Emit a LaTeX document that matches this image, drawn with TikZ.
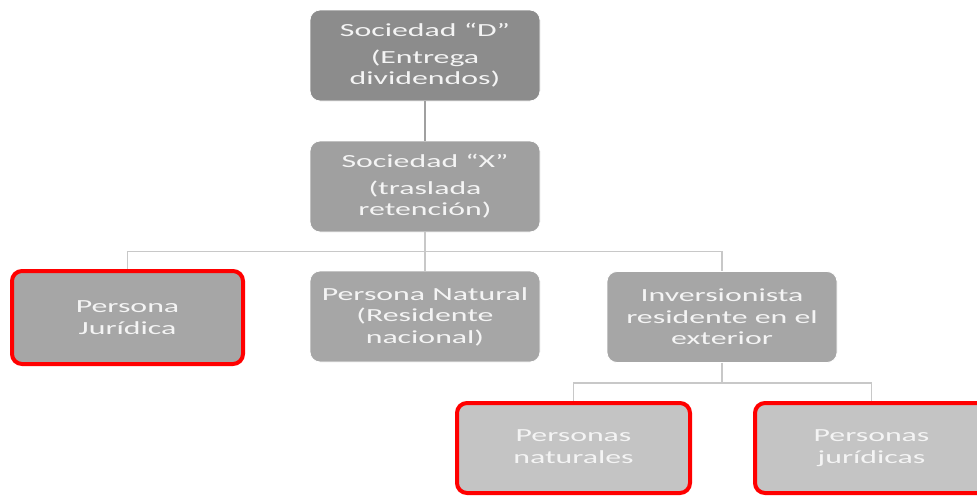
\documentclass[tikz,border=0pt]{standalone}
\usepackage{fontspec}
\setmainfont{Carlito}[FakeStretch=1.72]
\definecolor{cD}{HTML}{8C8C8C}
\definecolor{cX}{HTML}{A0A0A0}
\definecolor{cR}{HTML}{A6A6A6}
\definecolor{cB}{HTML}{C4C4C4}
\definecolor{cT}{HTML}{F4F4F4}
\definecolor{cL}{HTML}{C8C8C8}
\definecolor{cL2}{HTML}{A0A0A0}
\definecolor{cRed}{HTML}{FF0000}
\begin{document}
\begin{tikzpicture}[x=1pt,y=-1pt,
  box/.style={rectangle, rounded corners=10pt, draw=white, line width=0.8pt,
    minimum width=230pt, minimum height=91pt, inner sep=0pt, align=center,
    text=cT, font=\fontsize{18.5}{21.5}\selectfont},
  redbox/.style={box, draw=cRed, line width=4pt},
  conn/.style={draw=cL, line width=1.6pt},
  conn2/.style={draw=cL2, line width=2pt}]
\useasboundingbox (0,0) rectangle (977,496);
\clip (0,0) rectangle (977,496);
\node[box, fill=cD] (d) at (425,55.5) {Sociedad “D”\\[5pt](Entrega\\dividendos)};
\node[box, fill=cX] (x) at (425,186.5) {Sociedad “X”\\[5pt](traslada\\retención)};
\node[redbox, fill=cR, minimum width=231pt, minimum height=93pt] (pj) at (127.5,317.5) {Persona\\Jurídica};
\node[box, fill=cR] (pn) at (425,316.5) {Persona Natural\\(Residente\\nacional)};
\node[box, fill=cR] (inv) at (722,317) {Inversionista\\residente en el\\exterior};
\node[redbox, fill=cB, minimum width=233pt, minimum height=90pt] (pna) at (573.5,448) {Personas\\naturales\vphantom{j}};
\node[redbox, fill=cB, minimum width=233pt, minimum height=90pt] (pju) at (871.5,448) {Personas\\jurídicas};
\draw[conn2] (d.south) -- (x.north);
\draw[conn] (x.south) -- ++(0,19) -| (pj.north);
\draw[conn] (x.south) -- (pn.north);
\draw[conn] (x.south) -- ++(0,19) -| (inv.north);
\draw[conn] (inv.south) -- ++(0,20) -| (pna.north);
\draw[conn] (inv.south) -- ++(0,20) -| (pju.north);
\end{tikzpicture}
\end{document}
